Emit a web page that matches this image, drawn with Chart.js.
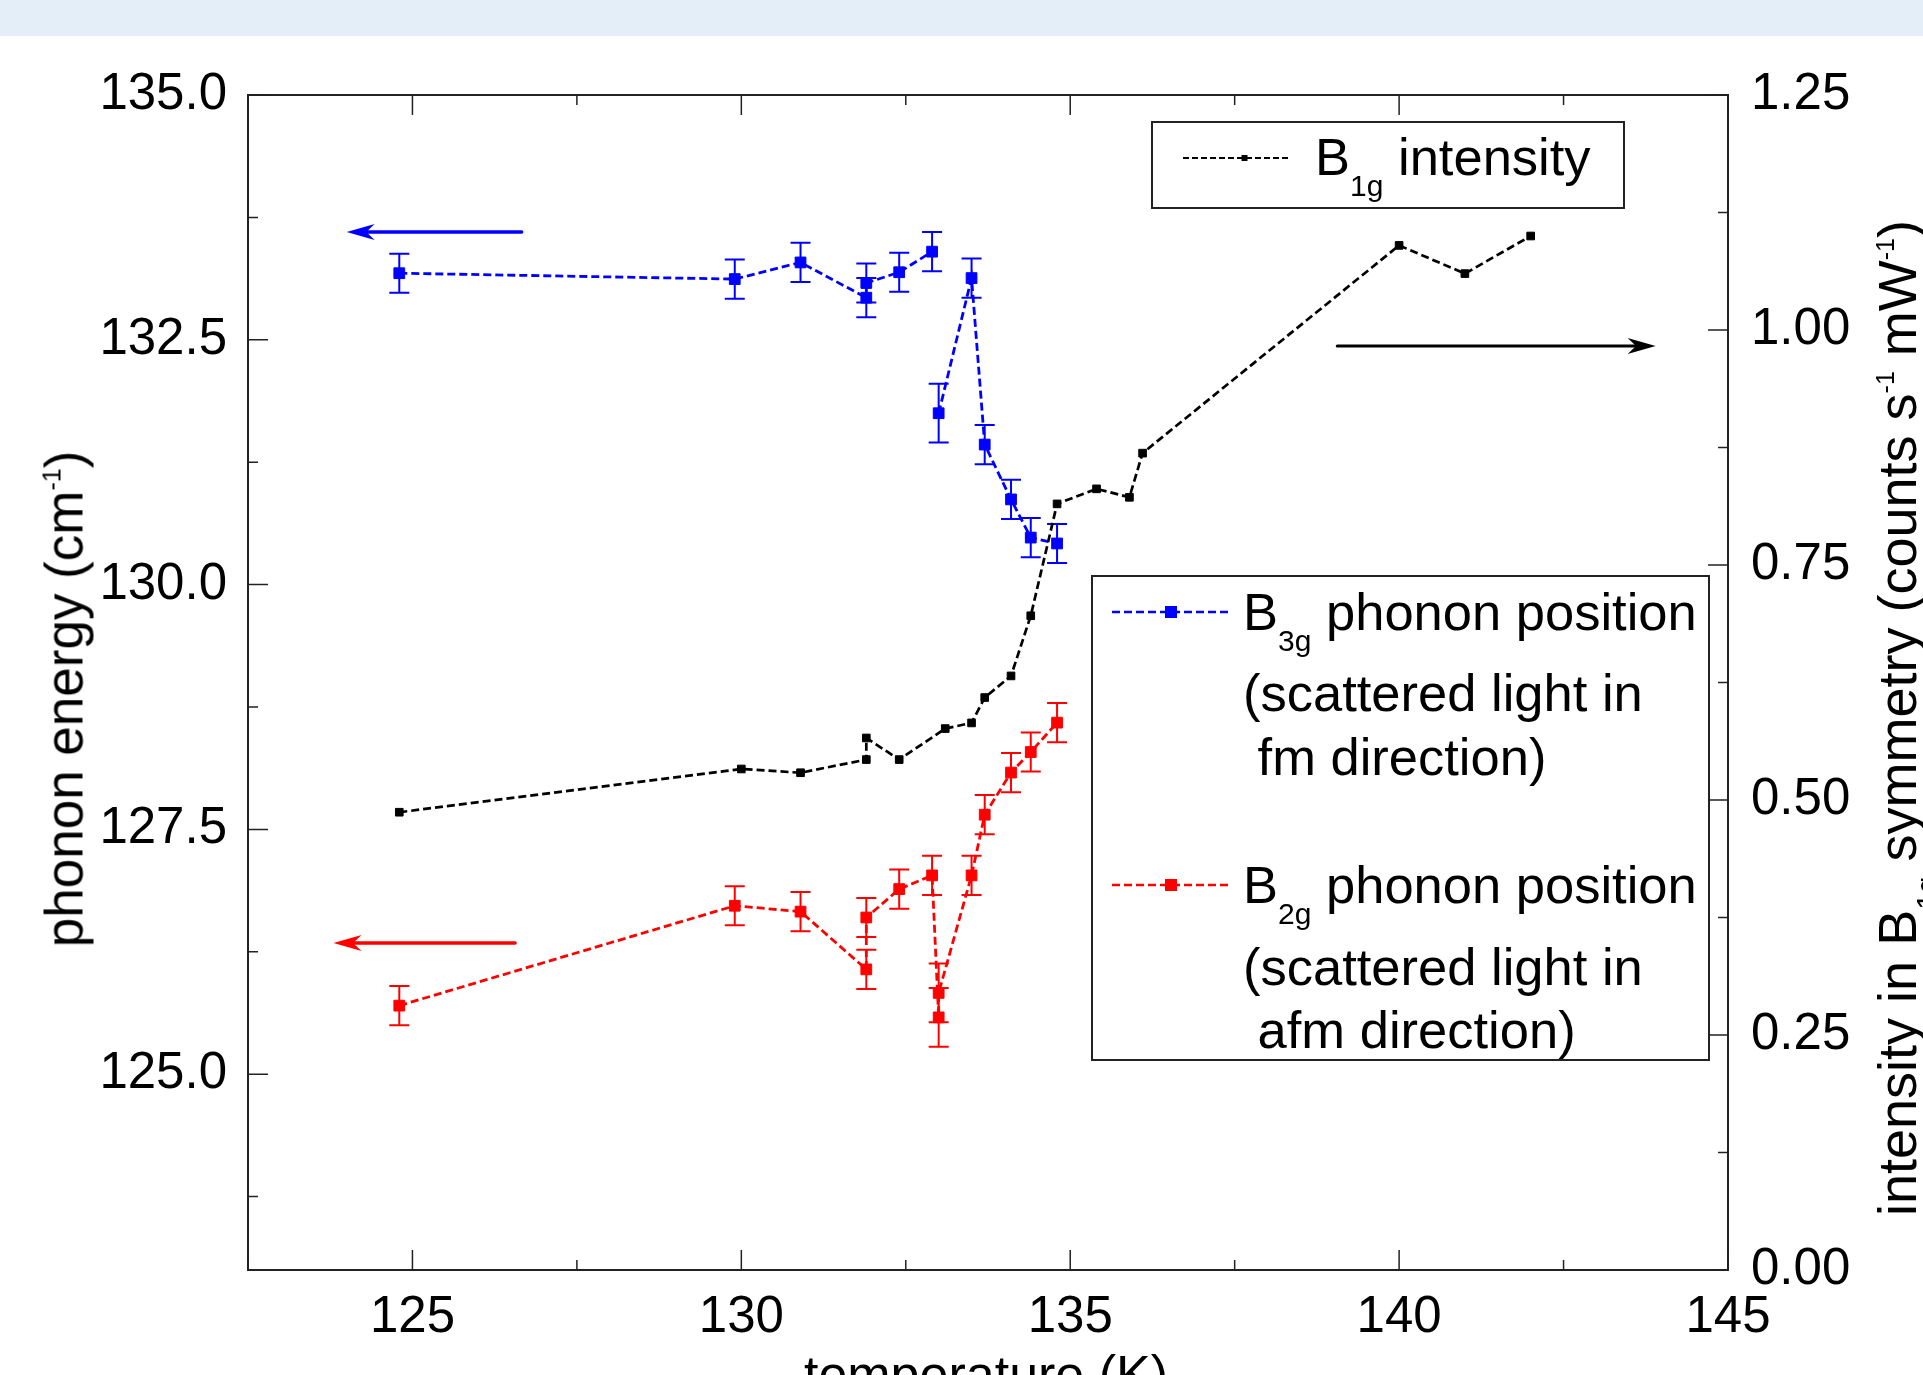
<!DOCTYPE html>
<html>
<head>
<meta charset="utf-8">
<title>Phonon energy and B1g intensity vs temperature</title>
<script src="https://cdn.jsdelivr.net/npm/chart.js@4.4.1/dist/chart.umd.min.js"></script>
<style>
  html, body { margin: 0; padding: 0; background: #fff; }
  body { width: 1923px; height: 1375px; overflow: hidden; position: relative;
         font-family: "Liberation Sans", Arial, sans-serif; color: #000; }
  #band { position: absolute; left: 0; top: 0; width: 1923px; height: 36px; background: #e4eef8; }
  #wrap { position: absolute; left: 0; top: 0; width: 1923px; height: 1375px; }
  .txt { position: absolute; white-space: pre; line-height: 1; font-size: 52.5px; }
  .rot { position: absolute; white-space: nowrap; line-height: 1; font-size: 53px;
         transform: translate(-50%, -50%) rotate(-90deg); }
  .sub { font-size: 30px; position: relative; top: 21px; }
  .sup { font-size: 25px; position: relative; top: -22px; }
  .box { position: absolute; box-sizing: border-box; border: 2px solid #222; }
  #over { position: absolute; left: 0; top: 0; }
</style>
</head>
<body>
<div id="band"></div>
<div id="wrap"><canvas id="c" width="1923" height="1375"></canvas></div>

<!-- axis titles -->
<div class="rot" style="left:64px;top:699px">phonon energy (cm<span class="sup">-1</span>)</div>
<div class="rot" style="left:1897px;top:718px;font-size:54px">intensity in B<span class="sub">1g</span> symmetry (counts s<span class="sup">-1</span> mW<span class="sup">-1</span>)</div>
<div class="txt" style="left:986px;top:1348px;font-size:52px;transform:translateX(-50%)">temperature (K)</div>

<!-- legends -->
<div class="box" style="left:1151px;top:121px;width:474px;height:88px"></div>
<div class="box" style="left:1091px;top:575px;width:619px;height:486px"></div>
<svg id="over" width="1923" height="1375">
  <line x1="1183" y1="158" x2="1289" y2="158" stroke="#000" stroke-width="2" stroke-dasharray="6 3"/>
  <rect x="1241.5" y="155" width="6" height="6" fill="#000"/>
  <line x1="1112" y1="612" x2="1229" y2="612" stroke="#0000ff" stroke-width="2.5" stroke-dasharray="8 4"/>
  <rect x="1165" y="606" width="12" height="12" fill="#0000ff"/>
  <line x1="1112" y1="885" x2="1229" y2="885" stroke="#ff0000" stroke-width="2.5" stroke-dasharray="8 4"/>
  <rect x="1165" y="879" width="12" height="12" fill="#ff0000"/>
</svg>
<div class="txt" style="left:1315px;top:131px">B<span class="sub">1g</span> intensity</div>
<div class="txt" style="left:1243px;top:586px">B<span class="sub">3g</span> phonon position</div>
<div class="txt" style="left:1243px;top:667px">(scattered light in</div>
<div class="txt" style="left:1243px;top:731px"> fm direction)</div>
<div class="txt" style="left:1243px;top:859px">B<span class="sub">2g</span> phonon position</div>
<div class="txt" style="left:1243px;top:941px">(scattered light in</div>
<div class="txt" style="left:1243px;top:1004px"> afm direction)</div>

<script>
/* B1g intensity (right axis, counts s^-1 mW^-1) */
const intT = [124.8, 130.0, 130.9, 131.9, 131.9, 132.4, 133.1, 133.5, 133.7, 134.1, 134.4, 134.8, 135.4, 135.9, 136.1, 140.0, 141.0, 142.0];
const intI = [0.487, 0.533, 0.529, 0.543, 0.566, 0.543, 0.576, 0.582, 0.609, 0.632, 0.696, 0.815, 0.831, 0.822, 0.869, 1.090, 1.060, 1.100];

/* B3g phonon position, fm direction (left axis, cm^-1) */
const b3gT   = [124.8, 129.9, 130.9, 131.9, 131.9, 132.4, 132.9, 133.0, 133.5, 133.7, 134.1, 134.4, 134.8];
const b3gE   = [133.18, 133.12, 133.29, 132.93, 133.08, 133.19, 133.40, 131.75, 133.13, 131.43, 130.87, 130.48, 130.42];
const b3gErr = [0.2, 0.2, 0.2, 0.2, 0.2, 0.2, 0.2, 0.3, 0.2, 0.2, 0.2, 0.2, 0.2];
const b3gGapAfter = 6;   // no connecting line between 132.9 K and 133.0 K in the original

/* B2g phonon position, afm direction (left axis, cm^-1) */
const b2gT   = [124.8, 129.9, 130.9, 131.9, 131.9, 132.4, 132.9, 133.0, 133.0, 133.5, 133.7, 134.1, 134.4, 134.8];
const b2gE   = [125.70, 126.72, 126.66, 126.07, 126.60, 126.89, 127.03, 125.58, 125.83, 127.03, 127.65, 128.08, 128.29, 128.59];
const b2gErr = [0.2, 0.2, 0.2, 0.2, 0.2, 0.2, 0.2, 0.3, 0.3, 0.2, 0.2, 0.2, 0.2, 0.2];

/* tick labels */
const xTickVals  = [125, 130, 135, 140, 145];
const yLTickVals = [125.0, 127.5, 130.0, 132.5, 135.0];
const yRTickVals = [0, 0.25, 0.5, 0.75, 1.0, 1.25];

/* axis-pointing arrows, in data units */
const arrows = [
  { axis: "y",  y: 133.6,  tail: 126.66, tip: 124.0, color: "#0000ff", w: 3.5 },
  { axis: "y",  y: 126.34, tail: 126.56, tip: 123.8, color: "#ff0000", w: 3.5 },
  { axis: "y2", y: 0.983,  tail: 139.06, tip: 143.9, color: "#000000", w: 3 },
];

const FONT = "'Liberation Sans', Arial, sans-serif";
const pts = (xs, ys) => xs.map((x, i) => ({ x, y: ys[i] }));

// vertical error bars with caps, drawn under the series
const errorBars = {
  id: "errorBars",
  beforeDatasetsDraw(chart) {
    const ctx = chart.ctx;
    chart.data.datasets.forEach((ds, i) => {
      if (!ds.errors) return;
      const meta = chart.getDatasetMeta(i), ys = chart.scales[ds.yAxisID];
      ctx.save();
      ctx.strokeStyle = ds.borderColor; ctx.lineWidth = 2; ctx.setLineDash([]);
      ctx.beginPath();
      meta.data.forEach((p, j) => {
        const v = ds.data[j].y, e = ds.errors[j];
        const y1 = ys.getPixelForValue(v + e), y2 = ys.getPixelForValue(v - e);
        ctx.moveTo(p.x, y1); ctx.lineTo(p.x, y2);
        ctx.moveTo(p.x - 10, y1); ctx.lineTo(p.x + 10, y1);
        ctx.moveTo(p.x - 10, y2); ctx.lineTo(p.x + 10, y2);
      });
      ctx.stroke();
      ctx.restore();
    });
  },
};

// Origin-style box frame with inward ticks, plus the direction arrows
const frame = {
  id: "frame",
  afterDraw(chart) {
    const { ctx, chartArea: a, scales } = chart;
    ctx.save();
    ctx.strokeStyle = "#222"; ctx.lineWidth = 2;
    ctx.strokeRect(a.left, a.top, a.right - a.left, a.bottom - a.top);
    const tick = (scale, step, major, fn) => {
      const n0 = Math.ceil(scale.min / step - 1e-9), n1 = Math.floor(scale.max / step + 1e-9);
      for (let n = n0; n <= n1; n++) {
        const v = n * step, isMajor = Math.abs(v / major - Math.round(v / major)) < 1e-6;
        fn(scale.getPixelForValue(v), isMajor ? 20 : 10);
      }
    };
    ctx.lineWidth = 1.5;
    ctx.beginPath();
    tick(scales.x, 2.5, 5, (p, l) => {
      ctx.moveTo(p, a.bottom); ctx.lineTo(p, a.bottom - l);
      ctx.moveTo(p, a.top); ctx.lineTo(p, a.top + l);
    });
    tick(scales.y, 1.25, 2.5, (p, l) => { ctx.moveTo(a.left, p); ctx.lineTo(a.left + l, p); });
    tick(scales.y2, 0.125, 0.25, (p, l) => { ctx.moveTo(a.right, p); ctx.lineTo(a.right - l, p); });
    ctx.stroke();

    arrows.forEach(ar => {
      const y = scales[ar.axis].getPixelForValue(ar.y);
      const xt = scales.x.getPixelForValue(ar.tip), xs = scales.x.getPixelForValue(ar.tail);
      const dir = xs > xt ? 1 : -1, L = 28, W = 8;
      ctx.strokeStyle = ar.color; ctx.fillStyle = ar.color; ctx.lineWidth = ar.w; ctx.lineCap = "round";
      ctx.beginPath(); ctx.moveTo(xs, y); ctx.lineTo(xt + dir * L * 0.6, y); ctx.stroke();
      ctx.beginPath();
      ctx.moveTo(xt, y);
      ctx.lineTo(xt + dir * L, y - W);
      ctx.lineTo(xt + dir * L * 0.7, y);
      ctx.lineTo(xt + dir * L, y + W);
      ctx.closePath(); ctx.fill();
    });
    ctx.restore();
  },
};

const tickFont = { family: FONT, size: 51 };

new Chart(document.getElementById("c"), {
  type: "line",
  data: {
    datasets: [
      {
        label: "B1g intensity", yAxisID: "y2", data: pts(intT, intI),
        borderColor: "#000", backgroundColor: "#000", borderWidth: 2.7, borderDash: [8, 4],
        pointStyle: "rect", pointRadius: 5.4, pointBorderWidth: 1, pointBackgroundColor: "#000", pointBorderColor: "#000",
        tension: 0, fill: false,
      },
      {
        label: "B3g phonon position", yAxisID: "y", data: pts(b3gT, b3gE), errors: b3gErr,
        borderColor: "#0000ff", backgroundColor: "#0000ff", borderWidth: 2.8, borderDash: [8, 4],
        pointStyle: "rect", pointRadius: 7.6, pointBorderWidth: 1, pointBackgroundColor: "#0000ff", pointBorderColor: "#0000ff",
        tension: 0, fill: false,
        segment: { borderColor: c => (c.p0DataIndex === b3gGapAfter ? "rgba(0,0,0,0)" : undefined) },
      },
      {
        label: "B2g phonon position", yAxisID: "y", data: pts(b2gT, b2gE), errors: b2gErr,
        borderColor: "#ff0000", backgroundColor: "#ff0000", borderWidth: 2.8, borderDash: [8, 4],
        pointStyle: "rect", pointRadius: 7.6, pointBorderWidth: 1, pointBackgroundColor: "#ff0000", pointBorderColor: "#ff0000",
        tension: 0, fill: false,
      },
    ],
  },
  options: {
    responsive: false, animation: false, devicePixelRatio: 1,
    layout: { padding: { top: 95, left: 0, right: 0, bottom: 0 } },
    plugins: { legend: { display: false }, title: { display: false }, tooltip: { enabled: false } },
    scales: {
      x: {
        type: "linear", position: "bottom", min: 122.5, max: 145,
        afterFit: s => { s.height = 105; },
        afterBuildTicks: s => { s.ticks = xTickVals.map(v => ({ value: v })); },
        ticks: { font: tickFont, color: "#000", padding: 17, maxRotation: 0, autoSkip: false, callback: v => String(v) },
        grid: { display: false, drawTicks: false }, border: { display: false },
      },
      y: {
        type: "linear", position: "left", min: 123, max: 135,
        afterFit: s => { s.width = 248; },
        afterBuildTicks: s => { s.ticks = yLTickVals.map(v => ({ value: v })); },
        ticks: { font: tickFont, color: "#000", padding: 21, autoSkip: false, callback: v => v.toFixed(1) },
        grid: { display: false, drawTicks: false }, border: { display: false },
      },
      y2: {
        type: "linear", position: "right", min: 0, max: 1.25,
        afterFit: s => { s.width = 195; },
        afterBuildTicks: s => { s.ticks = yRTickVals.map(v => ({ value: v })); },
        ticks: { font: tickFont, color: "#000", padding: 23, autoSkip: false, callback: v => v.toFixed(2) },
        grid: { display: false, drawTicks: false }, border: { display: false },
      },
    },
  },
  plugins: [errorBars, frame],
});
</script>
</body>
</html>
